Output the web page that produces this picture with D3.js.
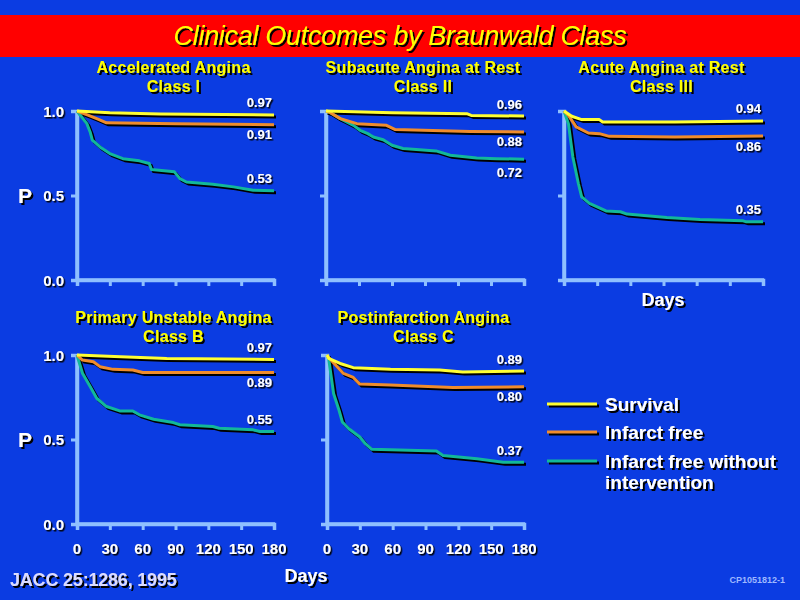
<!DOCTYPE html>
<html>
<head>
<meta charset="utf-8">
<script src="https://cdn.jsdelivr.net/npm/d3@7"></script>
<style>
  body { margin: 0; background: #0b3ce2; }
  svg { display: block; font-family: "Liberation Sans", Arial, sans-serif; }
</style>
</head>
<body>
<div id="chart-container"></div>
<script>
// data: [day, P]
var xTicks = [0, 30, 60, 90, 120, 150, 180];
var yTicks = [0.0, 0.5, 1.0];
var seriesNames = ["Survival", "Infarct free", "Infarct free without", "intervention"];

var titles = [
  ["Accelerated Angina", "Class I"],
  ["Subacute Angina at Rest", "Class II"],
  ["Acute Angina at Rest", "Class III"],
  ["Primary Unstable Angina", "Class B"],
  ["Postinfarction Angina", "Class C"]
];

var survival1 = [[0,1],[30,0.99],[76,0.982],[180,0.977]];
var infarct1 = [[0,1],[10,0.975],[18,0.955],[27,0.93],[90,0.925],[180,0.919]];
var noInt1 = [[0,1],[9,0.925],[12,0.876],[14,0.827],[21,0.787],[30,0.748],[42,0.718],[57,0.705],[66,0.689],[68,0.654],[89,0.64],[94,0.6],[100,0.58],[124,0.567],[143,0.551],[161,0.531],[180,0.528]];

var survival2 = [[0,1],[60,0.99],[128,0.984],[132,0.974],[180,0.97]];
var infarct2 = [[0,1],[4,0.99],[13,0.955],[28,0.925],[55,0.915],[63,0.89],[131,0.878],[180,0.876]];
var noInt2 = [[0,1],[4,0.99],[13,0.955],[25,0.915],[31,0.886],[38,0.866],[43,0.846],[52,0.83],[60,0.797],[70,0.778],[100,0.764],[113,0.738],[137,0.722],[155,0.718],[180,0.715]];

var survival3 = [[0,1],[7,0.969],[16,0.949],[32,0.949],[35,0.935],[100,0.935],[180,0.941]];
var infarct3 = [[0,1],[4,0.974],[11,0.906],[22,0.87],[32,0.866],[41,0.85],[100,0.846],[180,0.852]];
var noInt3 = [[0,1],[4,0.925],[8,0.728],[13,0.571],[16,0.492],[23,0.453],[38,0.409],[51,0.404],[57,0.39],[93,0.37],[123,0.358],[162,0.35],[165,0.344],[180,0.344]];

var survivalB = [[0,1],[40,0.99],[82,0.98],[180,0.974]];
var infarctB = [[0,1],[5,0.97],[15,0.96],[21,0.931],[33,0.915],[51,0.911],[60,0.896],[180,0.896]];
var noIntB = [[0,1],[5,0.892],[12,0.813],[18,0.744],[27,0.695],[39,0.669],[51,0.669],[57,0.646],[70,0.62],[88,0.6],[94,0.587],[124,0.577],[130,0.567],[161,0.557],[167,0.547],[180,0.547]];

var survivalC = [[0,1],[1.5,0.98],[12,0.95],[24,0.925],[58,0.915],[103,0.911],[124,0.9],[180,0.905]];
var infarctC = [[0,1],[1.5,0.985],[15,0.891],[24,0.867],[30,0.828],[58,0.822],[115,0.808],[180,0.812]];
var noIntC = [[0,1],[1.5,0.98],[6,0.772],[11,0.673],[14,0.604],[20,0.564],[30,0.515],[35,0.475],[41,0.442],[100,0.432],[106,0.406],[137,0.386],[161,0.366],[180,0.366]];

var endLabels = [
  ["0.97", "0.91", "0.53"],
  ["0.96", "0.88", "0.72"],
  ["0.94", "0.86", "0.35"],
  ["0.97", "0.89", "0.55"],
  ["0.89", "0.80", "0.37"]
];

var panelSeries = [
  [survival1, infarct1, noInt1],
  [survival2, infarct2, noInt2],
  [survival3, infarct3, noInt3],
  [survivalB, infarctB, noIntB],
  [survivalC, infarctC, noIntC]
];

// layout
var colors = ["#ffff33", "#f08c2c", "#12b89a"];
var axisColor = "#8fc0ff";
var panels = [
  {left: 77, right: 274, top: 111, bottom: 280, titleY: 67, yLabels: true, xLabels: false},
  {left: 326, right: 524, top: 111, bottom: 280, titleY: 67, yLabels: false, xLabels: false},
  {left: 564, right: 763, top: 111, bottom: 280, titleY: 67, yLabels: false, xLabels: false},
  {left: 77, right: 274, top: 355, bottom: 524, titleY: 317, yLabels: true, xLabels: true},
  {left: 327, right: 524, top: 355, bottom: 524, titleY: 317, yLabels: false, xLabels: true}
];
// label above (-1) or below (+1) the line end
var labelSide = [[-1, 1, -1], [-1, 1, 1.3], [-1, 1, -1], [-1, 1, -1], [-1, 1, -1]];

var svg = d3.select("#chart-container").append("svg")
  .attr("width", 800).attr("height", 600);

var defs = svg.append("defs");
[["shadow2", 2], ["shadow15", 1.5]].forEach(function(f) {
  var flt = defs.append("filter").attr("id", f[0]).attr("x", "-10%").attr("y", "-20%").attr("width", "130%").attr("height", "160%");
  flt.append("feDropShadow").attr("dx", f[1]).attr("dy", f[1]).attr("stdDeviation", 0.3)
    .attr("flood-color", "#000").attr("flood-opacity", 1);
});

svg.append("rect").attr("width", 800).attr("height", 600).attr("fill", "#0b3ce2");
svg.append("rect").attr("x", 0).attr("y", 15).attr("width", 800).attr("height", 42).attr("fill", "#ff0000");

function shadowText(g, x, y, txt, opts) {
  return g.append("text")
    .attr("x", x).attr("y", y)
    .attr("text-anchor", opts.anchor || "middle")
    .attr("dominant-baseline", "central")
    .attr("font-size", opts.size)
    .attr("font-weight", opts.weight || "bold")
    .attr("font-style", opts.style || "normal")
    .attr("letter-spacing", opts.ls || 0)
    .attr("fill", opts.fill || "#fff")
    .attr("filter", opts.small ? "url(#shadow15)" : "url(#shadow2)")
    .text(txt);
}

shadowText(svg, 400, 36, "Clinical Outcomes by Braunwald Class", {size: 27, weight: "normal", style: "italic", fill: "#ffff00", ls: -0.3});

panels.forEach(function(p, i) {
  var g = svg.append("g");
  var x = d3.scaleLinear().domain([0, 180]).range([p.left, p.right]);
  var y = d3.scaleLinear().domain([0, 1]).range([p.bottom, p.top]);
  var cx = (p.left + p.right) / 2;

  shadowText(g, cx - 2, p.titleY, titles[i][0], {size: 16, fill: "#ffff00", ls: 0.3});
  shadowText(g, cx - 2, p.titleY + 19, titles[i][1], {size: 16, fill: "#ffff00", ls: 0.3});

  // axes
  var xa = g.append("g").attr("transform", "translate(0," + p.bottom + ")")
    .call(d3.axisBottom(x).tickValues(xTicks).tickSize(6).tickFormat(""));
  var ya = g.append("g").attr("transform", "translate(" + p.left + ",0)")
    .call(d3.axisLeft(y).tickValues(yTicks).tickSize(6).tickFormat(""));
  [xa, ya].forEach(function(a) {
    a.selectAll("path").attr("stroke", axisColor).attr("stroke-width", 3.5);
    a.selectAll("line").attr("stroke", axisColor).attr("stroke-width", 3);
  });
  g.append("line").attr("x1", p.left).attr("x2", p.left).attr("y1", p.top - 1).attr("y2", p.bottom + 2)
    .attr("stroke", axisColor).attr("stroke-width", 3.5);
  g.append("line").attr("x1", p.left).attr("x2", p.right + 1).attr("y1", p.bottom).attr("y2", p.bottom)
    .attr("stroke", axisColor).attr("stroke-width", 3.5);

  if (p.yLabels) {
    yTicks.forEach(function(t) {
      shadowText(g, p.left - 13, y(t), d3.format(".1f")(t), {size: 15, anchor: "end", small: true});
    });
    shadowText(g, 25, y(0.5), "P", {size: 21});
  }
  if (p.xLabels) {
    xTicks.forEach(function(t) {
      shadowText(g, x(t), p.bottom + 24, String(t), {size: 15, small: true});
    });
  }

  var line = d3.line().x(function(d) { return x(d[0]); }).y(function(d) { return y(d[1]); });
  var order = [2, 1, 0];
  order.forEach(function(k) {
    g.append("path").datum(panelSeries[i][k]).attr("d", line)
      .attr("transform", "translate(2,2)")
      .attr("fill", "none").attr("stroke", "#000").attr("stroke-width", 3).attr("stroke-linejoin", "round");
  });
  order.forEach(function(k) {
    g.append("path").datum(panelSeries[i][k]).attr("d", line)
      .attr("fill", "none").attr("stroke", colors[k]).attr("stroke-width", 3).attr("stroke-linejoin", "round");
  });

  endLabels[i].forEach(function(lbl, k) {
    var s = panelSeries[i][k];
    var last = s[s.length - 1];
    var side = labelSide[i][k];
    var ly = y(last[1]) + (side < 0 ? -12 : 10 * side);
    shadowText(g, x(180) - 2, ly, lbl, {size: 13, anchor: "end", small: true});
  });
});

shadowText(svg, 663, 300, "Days", {size: 18});
shadowText(svg, 306, 576, "Days", {size: 18});

// legend
var legendY = [404, 432, 461];
legendY.forEach(function(ly, k) {
  svg.append("line").attr("x1", 547 + 2).attr("x2", 597 + 2).attr("y1", ly + 2).attr("y2", ly + 2)
    .attr("stroke", "#000").attr("stroke-width", 3);
  svg.append("line").attr("x1", 547).attr("x2", 597).attr("y1", ly).attr("y2", ly)
    .attr("stroke", colors[k]).attr("stroke-width", 3);
});
shadowText(svg, 605, 404, seriesNames[0], {size: 19, anchor: "start"});
shadowText(svg, 605, 432, seriesNames[1], {size: 19, anchor: "start"});
shadowText(svg, 605, 461, seriesNames[2], {size: 19, anchor: "start"});
shadowText(svg, 605, 482, seriesNames[3], {size: 19, anchor: "start"});

shadowText(svg, 10, 580, "JACC 25:1286, 1995", {size: 18, anchor: "start", fill: "#dcdcff", ls: -0.2});
svg.append("text").attr("x", 785).attr("y", 580).attr("text-anchor", "end")
  .attr("dominant-baseline", "central").attr("font-size", 9).attr("font-weight", "bold")
  .attr("fill", "#9fb8ff").text("CP1051812-1");
</script>
</body>
</html>
